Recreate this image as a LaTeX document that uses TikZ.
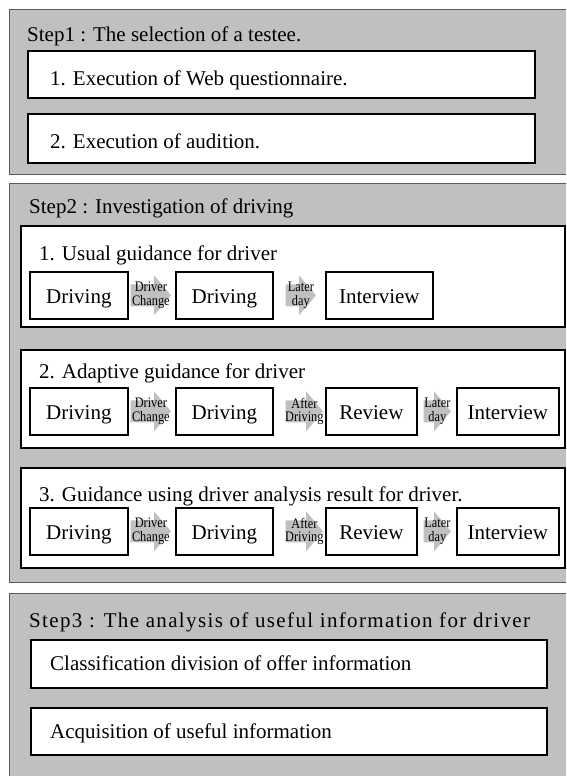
\documentclass[tikz,border=0pt]{standalone}
\usepackage{fontspec}
\setmainfont{Liberation Serif}
\newfontfamily\narrowfont[FakeStretch=0.85]{Liberation Serif}
\newfontfamily\spacedfont[LetterSpace=6.5]{Liberation Serif}
\usetikzlibrary{calc}
\definecolor{panelgray}{HTML}{C0C0C0}
\definecolor{panelline}{HTML}{5A5A5A}
\newcommand{\blockarrow}[5]{%
  \fill[panelgray] let \p1=($(#1.east)+(#3,0)$), \p2=($(#2.west)-(#4,0)$) in
    (\x1,\y1+11pt) -- (\x2-17pt,\y1+11pt) -- (\x2-17pt,\y1+20pt) -- (\x2,\y1)
    -- (\x2-17pt,\y1-20pt) -- (\x2-17pt,\y1-11pt) -- (\x1,\y1-11pt) -- cycle;
  \node[small] at ($($(#1.east)+(#3,0)$)!0.5!($(#2.west)-(#4,0)$)$) {#5};
}
\begin{document}
\begin{tikzpicture}[x=1pt,y=-1pt,
  panel/.style={draw=panelline, fill=panelgray, line width=1.3pt, anchor=north west, inner sep=0pt},
  box/.style={draw=black, fill=white, line width=1.7pt, anchor=north west, inner sep=0pt},
  stepbox/.style={box, minimum height=47pt, text height=20pt, text depth=3pt, font=\fontsize{21}{24}\selectfont},
  label/.style={anchor=base west, inner sep=0pt, font=\fontsize{21}{24}\selectfont},
  small/.style={font=\narrowfont\fontsize{14.5}{13.5}\selectfont, align=center, inner sep=0pt}]
\useasboundingbox (0,0) rectangle (566,776);
\clip (0,0) rectangle (566,776);
\fill[white] (0,0) rectangle (566,776);

% Step 1
\node[panel, minimum width=600pt, minimum height=165pt] (p1) at (9,9) {};
\node[label] (t1) at (27,42) {Step1 : The selection of a testee.};
\node[box, minimum width=507pt, minimum height=47pt] (s1a) at (27,50) {};
\node[label] (s1at) at (50,85) {1. Execution of Web questionnaire.};
\node[box, minimum width=507pt, minimum height=49pt] (s1b) at (27,113) {};
\node[label] (s1bt) at (50,148) {2. Execution of audition.};

% Step 2
\node[panel, minimum width=600pt, minimum height=399pt] (p2) at (9,183) {};
\node[label] (t2) at (29,213) {Step2 : Investigation of driving};

\node[box, minimum width=544pt, minimum height=101pt] (g1) at (20,225) {};
\node[label] (g1t) at (39,260) {1. Usual guidance for driver};
\node[stepbox, minimum width=98pt] (a1) at (29,271) {Driving};
\node[stepbox, minimum width=97pt] (a2) at (175,271) {Driving};
\node[stepbox, minimum width=107pt] (a3) at (325,271) {Interview};
\blockarrow{a1}{a2}{2}{4}{Driver\\Change}
\blockarrow{a2}{a3}{12}{9}{Later\\day}

\node[box, minimum width=544pt, minimum height=98pt] (g2) at (20,349) {};
\node[label] (g2t) at (39,378) {2. Adaptive guidance for driver};
\node[stepbox, minimum width=98pt] (b1) at (29,387) {Driving};
\node[stepbox, minimum width=97pt] (b2) at (175,387) {Driving};
\node[stepbox, minimum width=91pt] (b3) at (325,387) {Review};
\node[stepbox, minimum width=102pt] (b4) at (456,387) {Interview};
\blockarrow{b1}{b2}{2}{4}{Driver\\Change}
\blockarrow{b2}{b3}{12}{2}{After\\Driving}
\blockarrow{b3}{b4}{6}{5}{Later\\day}

\node[box, minimum width=544pt, minimum height=100pt] (g3) at (20,467) {};
\node[label] (g3t) at (39,501) {3. Guidance using driver analysis result for driver.};
\node[stepbox, minimum width=98pt] (c1) at (29,507) {Driving};
\node[stepbox, minimum width=97pt] (c2) at (175,507) {Driving};
\node[stepbox, minimum width=91pt] (c3) at (325,507) {Review};
\node[stepbox, minimum width=102pt] (c4) at (456,507) {Interview};
\blockarrow{c1}{c2}{2}{4}{Driver\\Change}
\blockarrow{c2}{c3}{12}{2}{After\\Driving}
\blockarrow{c3}{c4}{6}{5}{Later\\day}

% Step 3
\node[panel, minimum width=600pt, minimum height=300pt] (p3) at (9,593) {};
\node[label, font=\spacedfont\fontsize{21}{24}\selectfont] (t3) at (29,627) {Step3 : The analysis of useful information for driver};
\node[box, minimum width=516pt, minimum height=48pt] (s3a) at (30,639) {};
\node[label] (s3at) at (50,670) {Classification division of offer information};
\node[box, minimum width=516pt, minimum height=47pt] (s3b) at (30,707) {};
\node[label] (s3bt) at (50,738) {Acquisition of useful information};
\end{tikzpicture}
\end{document}
